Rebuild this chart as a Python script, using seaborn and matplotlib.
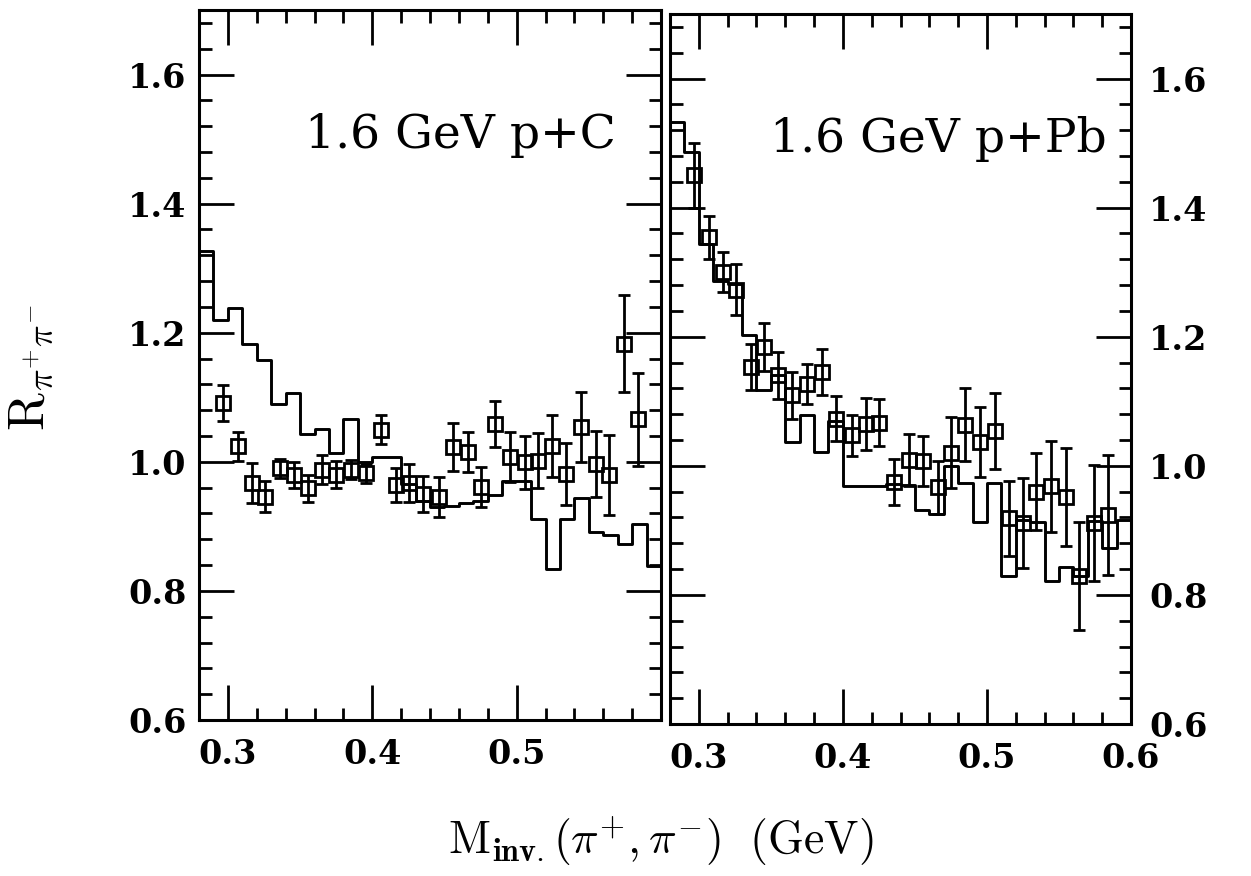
import matplotlib
matplotlib.use('Agg')
import matplotlib.pyplot as plt
import seaborn as sns
import pandas as pd
from matplotlib.ticker import MultipleLocator, FixedLocator, FormatStrFormatter

# ---------------- data ----------------
bin_edges = [0.28, 0.29, 0.30, 0.31, 0.32, 0.33, 0.34, 0.35, 0.36, 0.37, 0.38,
             0.39, 0.40, 0.41, 0.42, 0.43, 0.44, 0.45, 0.46, 0.47, 0.48, 0.49,
             0.50, 0.51, 0.52, 0.53, 0.54, 0.55, 0.56, 0.57, 0.58, 0.59, 0.60]

hist_pC = [1.326, 1.219, 1.238, 1.182, 1.158, 1.090, 1.107, 1.043, 1.051, 1.013,
           1.067, 1.000, 1.008, 1.008, 0.965, 0.940, 0.930, 0.932, 0.936, 0.940,
           0.948, 0.971, 0.971, 0.911, 0.834, 0.911, 0.944, 0.892, 0.887, 0.873,
           0.904, 0.839]

hist_pPb = [1.533, 1.486, 1.344, 1.287, 1.282, 1.202, 1.117, 1.140, 1.037, 1.078,
            1.021, 1.070, 0.969, 0.969, 0.969, 0.972, 0.970, 0.931, 0.925, 0.999,
            0.973, 0.913, 0.973, 0.830, 0.916, 0.913, 0.822, 0.843, 0.830, 0.914,
            0.872, 0.916]

mass_pts = [0.2967, 0.3068, 0.3165, 0.3258, 0.3360, 0.3455, 0.3553, 0.3650, 0.3751, 0.3853,
            0.3954, 0.4060, 0.4162, 0.4254, 0.4352, 0.4461, 0.4556, 0.4660, 0.4751, 0.4851,
            0.4951, 0.5055, 0.5151, 0.5248, 0.5340, 0.5445, 0.5547, 0.5641, 0.5742, 0.5840]

ratio_pC = [1.091, 1.024, 0.967, 0.946, 0.990, 0.980, 0.959, 0.988, 0.980, 0.988,
            0.982, 1.050, 0.964, 0.967, 0.950, 0.945, 1.023, 1.015, 0.961, 1.059,
            1.007, 0.999, 1.002, 1.024, 0.981, 1.054, 0.997, 0.979, 1.183, 1.066]
err_pC = [0.028, 0.022, 0.031, 0.024, 0.015, 0.020, 0.021, 0.022, 0.021, 0.015,
          0.015, 0.022, 0.026, 0.030, 0.028, 0.031, 0.037, 0.031, 0.031, 0.036,
          0.039, 0.041, 0.043, 0.048, 0.048, 0.054, 0.051, 0.062, 0.075, 0.072]

ratio_pPb = [1.450, 1.354, 1.300, 1.273, 1.153, 1.184, 1.140, 1.109, 1.127, 1.145,
             1.073, 1.047, 1.065, 1.067, 0.975, 1.009, 1.007, 0.967, 1.020, 1.064,
             1.037, 1.054, 0.919, 0.911, 0.960, 0.968, 0.952, 0.829, 0.911, 0.924]
err_pPb = [0.050, 0.033, 0.031, 0.039, 0.035, 0.037, 0.037, 0.036, 0.031, 0.036,
           0.035, 0.032, 0.040, 0.036, 0.036, 0.041, 0.039, 0.041, 0.055, 0.057,
           0.054, 0.059, 0.058, 0.070, 0.060, 0.070, 0.076, 0.084, 0.090, 0.093]

panel_titles = ['1.6 GeV p+C', '1.6 GeV p+Pb']
xticks_left = [0.3, 0.4, 0.5]
xticks_right = [0.3, 0.4, 0.5, 0.6]

# ---------------- style ----------------
sns.set_theme(style='white')
plt.rcParams['font.family'] = ['DejaVu Serif']
plt.rcParams['mathtext.fontset'] = 'cm'

W, H = 1251, 876
fig = plt.figure(figsize=(W / 100, H / 100), dpi=100)
fig.patch.set_facecolor('white')

axL = fig.add_axes([199 / W, (H - 720) / H, 462 / W, 710 / H])
axR = fig.add_axes([670 / W, (H - 724) / H, 461 / W, 710 / H])

panels = [
    (axL, hist_pC, ratio_pC, err_pC, panel_titles[0], xticks_left, 'left', 0.229),
    (axR, hist_pPb, ratio_pPb, err_pPb, panel_titles[1], xticks_right, 'right', 0.217),
]

for ax, hist, vals, errs, title, xt, side, tx in panels:
    ax.set_facecolor('white')
    df_h = pd.DataFrame({'m': bin_edges, 'R': hist + [hist[-1]]})
    sns.lineplot(data=df_h, x='m', y='R', drawstyle='steps-post', color='black',
                 lw=2.1, ax=ax, estimator=None, sort=False)
    ax.errorbar(mass_pts, vals, yerr=errs, fmt='s', ms=10, mfc='none', mec='black',
                mew=2.0, ecolor='black', elinewidth=2.0, capsize=4, capthick=2.0,
                color='black', zorder=3)

    ax.set_xlim(0.28, 0.60)
    ax.set_ylim(0.6, 1.7)
    ax.xaxis.set_major_locator(FixedLocator(xt))
    ax.xaxis.set_major_formatter(FormatStrFormatter('%.1f'))
    ax.xaxis.set_minor_locator(MultipleLocator(0.02))
    ax.yaxis.set_major_locator(FixedLocator([0.6, 0.8, 1.0, 1.2, 1.4, 1.6]))
    ax.yaxis.set_major_formatter(FormatStrFormatter('%.1f'))
    ax.yaxis.set_minor_locator(MultipleLocator(0.04))
    ax.set_xlabel('')
    ax.set_ylabel('')
    ax.grid(False)

    ax.tick_params(which='both', direction='in', top=True, bottom=True,
                   left=True, right=True, color='black', width=2.0)
    ax.tick_params(which='major', length=25)
    ax.tick_params(which='minor', length=9)
    ax.tick_params(axis='x', which='major', labelsize=24, pad=13, labelcolor='black')
    if side == 'left':
        ax.tick_params(axis='y', which='major', labelsize=24, pad=9,
                       labelleft=True, labelright=False, labelcolor='black')
    else:
        ax.tick_params(axis='y', which='major', labelsize=24, pad=13,
                       labelleft=False, labelright=True, labelcolor='black')
    for lab in ax.get_xticklabels() + ax.get_yticklabels():
        lab.set_fontweight('bold')
    for sp in ax.spines.values():
        sp.set_visible(True)
        sp.set_color('black')
        sp.set_linewidth(2.2)

    ax.text(tx, 0.806, title, transform=ax.transAxes, fontsize=34,
            family='DejaVu Serif', va='baseline', ha='left', color='black')

fig.text(661 / W, 1 - 842 / H,
         r'$\mathrm{M}_{\mathbf{inv.}}(\pi^{+},\pi^{-})\ \ (\mathrm{GeV})$',
         fontsize=33, ha='center', va='center', color='black')
fig.text(32 / W, 1 - 368 / H, r'$\mathrm{R}_{\pi^{+}\pi^{-}}$',
         fontsize=37, rotation=90, ha='center', va='center', color='black')

fig.savefig('out.png', dpi=100, facecolor='white')
